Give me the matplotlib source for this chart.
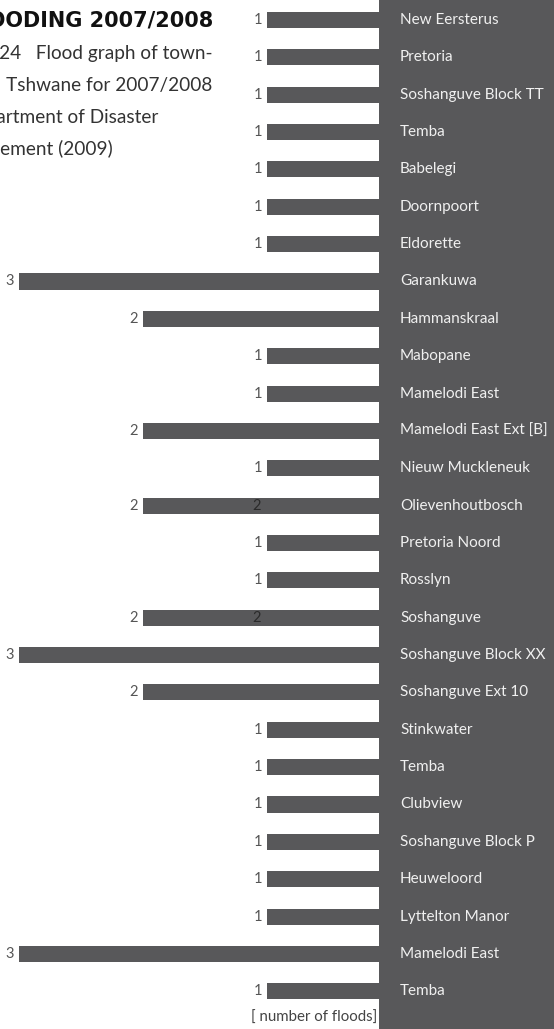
import matplotlib
matplotlib.use("Agg")
import matplotlib.pyplot as plt
from matplotlib.patches import Rectangle
import matplotlib.transforms as mtransforms

plt.rcParams['font.family'] = ['Lato', 'DejaVu Sans']

towns = ["New Eersterus", "Pretoria", "Soshanguve Block TT", "Temba", "Babelegi",
         "Doornpoort", "Eldorette", "Garankuwa", "Hammanskraal", "Mabopane",
         "Mamelodi East", "Mamelodi East Ext [B]", "Nieuw Muckleneuk",
         "Olievenhoutbosch", "Pretoria Noord", "Rosslyn", "Soshanguve",
         "Soshanguve Block XX", "Soshanguve Ext 10", "Stinkwater", "Temba",
         "Clubview", "Soshanguve Block P", "Heuweloord", "Lyttelton Manor",
         "Mamelodi East", "Temba"]
floods = [1, 1, 1, 1, 1, 1, 1, 3, 2, 1, 1, 2, 1, 2, 1, 1, 2, 3, 2, 1, 1, 1, 1, 1, 1, 3, 1]
# stray labels printed inside two bars in the original
inner_labels = {13: "2", 16: "2"}

title = "FLOODING 2007/2008"
caption = ["Figure 4.24   Flood graph of town-",
           "ships in Tshwane for 2007/2008",
           "Source: Department of Disaster",
           "Management (2009)"]
axis_note = "[ number of floods]"

W, H = 554, 1029
dark = "#58585a"

fig = plt.figure(figsize=(W / 100, H / 100), dpi=100)
ax = fig.add_axes([0, 0, 1, 1])
ax.set_xlim(3.153, -1.315)
ax.set_ylim(27.01, -0.535)
ax.axis("off")

rows = list(range(len(towns)))
ax.barh(rows, floods, height=0.43, color=dark, zorder=2)

# dark side panel
ax.add_patch(Rectangle((379 / W, 0), 1 - 379 / W, 1, transform=ax.transAxes,
                       facecolor=dark, edgecolor="none", zorder=3))

mix = mtransforms.blended_transform_factory(ax.transAxes, ax.transData)
for i, (t, v) in enumerate(zip(towns, floods)):
    ax.text(400 / W, i, t, transform=mix, ha="left", va="center",
            fontsize=11, color="#f0f0f0", zorder=4)
    ax.text(v + 0.04, i, str(v), ha="right", va="center", fontsize=10.5,
            color="#555555", zorder=4)
for i, s in inner_labels.items():
    ax.text(1.05, i, s, ha="right", va="center", fontsize=10.5,
            color="#2a2a2a", zorder=4)

fig.text(377 / W, 1 - 1018 / H, axis_note, ha="right", va="center",
         fontsize=10.8, color="#444444")

fig.text(213 / W, 1 - 20 / H, title, ha="right", va="center",
         fontsize=15, fontweight="bold", color="#111111",
         family=["DejaVu Sans"])
ys = [53, 85, 117, 149]
ends = [213, 212, 158, 113]
for line, y, xe in zip(caption, ys, ends):
    fig.text(xe / W, 1 - y / H, line, ha="right", va="center",
             fontsize=13.7, color="#333333")

fig.savefig("out.png", dpi=100)
